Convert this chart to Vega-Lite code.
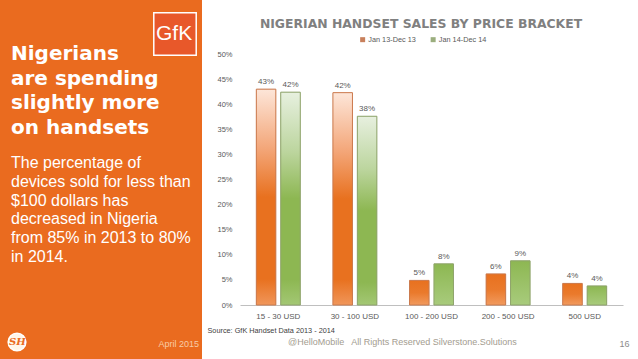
{
  "$schema": "https://vega.github.io/schema/vega-lite/v6.json",
  "background": "white",
  "padding": 0,
  "spacing": 5,
  "columns": 2,
  "align": "none",
  "bounds": "full",
  "config": {"view": {"stroke": null}, "font": "Liberation Sans"},
  "title": {
    "text": "@HelloMobile\u00a0\u00a0 All Rights Reserved Silverstone.Solutions",
    "orient": "bottom", "anchor": "start", "frame": "bounds",
    "dx": 288, "offset": -21, "baseline": "top",
    "font": "Liberation Sans", "fontSize": 9, "fontWeight": "normal", "color": "#A39C8F"
  },
  "concat": [
    {
      "width": 202,
      "height": 359,
      "view": {"fill": "#EA6B1F", "stroke": null},
      "title": {
        "text": ["Nigerians", "are spending", "slightly more", "on handsets"],
        "subtitle": ["The percentage of", "devices sold for less than", "$100 dollars has", "decreased in Nigeria", "from 85% in 2013 to 80%", "in 2014."],
        "anchor": "start", "frame": "group", "orient": "top", "baseline": "top",
        "dx": 11, "offset": -265,
        "font": "DejaVu Sans", "fontSize": 20, "fontWeight": "bold", "color": "white", "lineHeight": 24.7,
        "subtitleFont": "Liberation Sans", "subtitleFontSize": 16, "subtitleColor": "white", "subtitleLineHeight": 18.8, "subtitlePadding": 17
      },
      "data": {"values": [{"brand": "GfK", "badge": "SH"}]},
      "mark": {"type": "point", "filled": true, "size": 0, "opacity": 1},
      "encoding": {
        "fill": {
          "field": "brand", "type": "nominal",
          "scale": {"range": ["#E8582A"]},
          "legend": {
            "orient": "none", "legendX": 153, "legendY": 12, "padding": 0,
            "title": "April 2015", "titleOrient": "bottom", "titleAnchor": "end", "titlePadding": 282,
            "titleColor": "#F8CBA6", "titleFont": "Liberation Sans", "titleFontSize": 9, "titleFontWeight": "normal",
            "symbolType": "square", "symbolSize": 1800, "symbolStrokeColor": "white", "symbolStrokeWidth": 1.5,
            "labelColor": "white", "labelFontSize": 21, "labelFont": "Liberation Sans", "labelOffset": -41,
            "encode": {
              "symbols": {"update": {"stroke": {"value": "white"}, "strokeWidth": {"value": 1.5}, "opacity": {"value": 1}}},
              "title": {"update": {"dx": {"value": -5}}}
            }
          }
        },
        "shape": {
          "field": "badge", "type": "nominal",
          "scale": {"range": ["circle"]},
          "legend": {
            "orient": "none", "legendX": 7, "legendY": 332, "padding": 0, "title": null,
            "symbolSize": 314, "symbolFillColor": "#FFF6EA", "symbolStrokeColor": "white",
            "labelColor": "#EA6B1F", "labelFont": "DejaVu Serif", "labelFontStyle": "italic", "labelFontWeight": "bold",
            "labelFontSize": 10, "labelOffset": -18,
            "encode": {"symbols": {"update": {"fill": {"value": "#FFF6EA"}, "stroke": {"value": "white"}, "opacity": {"value": 1}}}}
          }
        }
      }
    },
    {
      "width": 383,
      "height": 305,
      "view": {"stroke": null},
      "title": {
        "text": "NIGERIAN HANDSET SALES BY PRICE BRACKET",
        "anchor": "middle", "frame": "group", "dx": -10.5, "offset": -30, "baseline": "top",
        "font": "DejaVu Sans", "fontSize": 12.4, "fontWeight": "bold", "color": "#808080"
      },
      "data": {
        "values": [
          {"bracket": "15 - 30 USD", "period": "Jan 13-Dec 13", "share": 0.43},
          {"bracket": "15 - 30 USD", "period": "Jan 14-Dec 14", "share": 0.424},
          {"bracket": "30 - 100 USD", "period": "Jan 13-Dec 13", "share": 0.423},
          {"bracket": "30 - 100 USD", "period": "Jan 14-Dec 14", "share": 0.376},
          {"bracket": "100 - 200 USD", "period": "Jan 13-Dec 13", "share": 0.049},
          {"bracket": "100 - 200 USD", "period": "Jan 14-Dec 14", "share": 0.082},
          {"bracket": "200 - 500 USD", "period": "Jan 13-Dec 13", "share": 0.062},
          {"bracket": "200 - 500 USD", "period": "Jan 14-Dec 14", "share": 0.088},
          {"bracket": "500 USD", "period": "Jan 13-Dec 13", "share": 0.043},
          {"bracket": "500 USD", "period": "Jan 14-Dec 14", "share": 0.038}
        ]
      },
      "encoding": {
        "x": {
          "field": "bracket", "type": "nominal",
          "sort": ["15 - 30 USD", "30 - 100 USD", "100 - 200 USD", "200 - 500 USD", "500 USD"],
          "scale": {"paddingInner": 0.426, "paddingOuter": 0.213},
          "axis": {
            "labelAngle": 0, "labelPadding": 7, "labelFontSize": 8, "labelColor": "#595959", "labelFont": "Liberation Sans",
            "ticks": false, "domainColor": "#BFBFBF", "domainWidth": 1,
            "title": "Source: GfK Handset Data 2013 - 2014",
            "titleX": -33, "titleY": 25, "titleAlign": "left", "titleAnchor": "start", "titleBaseline": "middle",
            "titleFontSize": 7.3, "titleFontWeight": "normal", "titleColor": "#404040", "titleFont": "Liberation Sans"
          }
        },
        "xOffset": {
          "field": "period", "type": "nominal",
          "scale": {"paddingInner": 0.2, "paddingOuter": 0}
        },
        "y": {
          "field": "share", "type": "quantitative",
          "scale": {"domain": [0, 0.6076], "nice": false},
          "axis": {
            "values": [0, 0.05, 0.1, 0.15, 0.2, 0.25, 0.3, 0.35, 0.4, 0.45, 0.5],
            "format": ".0%", "grid": false, "domain": false, "ticks": false,
            "labelPadding": 8, "labelFontSize": 7.5, "labelColor": "#595959", "labelFont": "Liberation Sans",
            "title": "16", "titleAngle": 0, "titleX": 384, "titleY": 343, "titleAlign": "center", "titleBaseline": "middle",
            "titleFontSize": 9, "titleFontWeight": "normal", "titleColor": "#8C8C8C", "titleFont": "Liberation Sans"
          }
        }
      },
      "layer": [
        {
          "mark": {"type": "bar"},
          "encoding": {
            "color": {
              "field": "period", "type": "nominal",
              "scale": {"range": ["#C8805C", "#9BAE7E"]},
              "legend": {
                "orient": "none", "legendX": 359, "legendY": 36, "direction": "horizontal", "padding": 0,
                "title": null, "symbolType": "square", "symbolSize": 25, "symbolStrokeWidth": 0,
                "labelFontSize": 7.3, "labelColor": "#595959", "labelFont": "Liberation Sans", "labelOffset": 2,
                "columnPadding": 13.5
              }
            }
          }
        },
        {
          "mark": {"type": "bar", "strokeWidth": 1},
          "encoding": {
            "fill": {
              "condition": [
                {"test": "datum.period === 'Jan 13-Dec 13' && datum.share > 0.2",
                 "value": {"gradient": "linear", "x1": 0, "y1": 0, "x2": 0, "y2": 1, "stops": [
                   {"offset": 0, "color": "#FDE6D9"}, {"offset": 0.28, "color": "#F3A577"},
                   {"offset": 0.5, "color": "#E8711F"}, {"offset": 0.88, "color": "#E8711F"},
                   {"offset": 1, "color": "#F0965A"}]}},
                {"test": "datum.period === 'Jan 13-Dec 13'",
                 "value": {"gradient": "linear", "x1": 0, "y1": 0, "x2": 0, "y2": 1, "stops": [
                   {"offset": 0, "color": "#E8711F"}, {"offset": 0.5, "color": "#EA7A2C"},
                   {"offset": 1, "color": "#F19A5E"}]}},
                {"test": "datum.share > 0.2",
                 "value": {"gradient": "linear", "x1": 0, "y1": 0, "x2": 0, "y2": 1, "stops": [
                   {"offset": 0, "color": "#E7F0DF"}, {"offset": 0.28, "color": "#BCD59E"},
                   {"offset": 0.5, "color": "#8DB752"}, {"offset": 0.88, "color": "#8DB752"},
                   {"offset": 1, "color": "#A3C774"}]}}
              ],
              "value": {"gradient": "linear", "x1": 0, "y1": 0, "x2": 0, "y2": 1, "stops": [
                {"offset": 0, "color": "#8DB752"}, {"offset": 1, "color": "#A8CB7C"}]}
            },
            "stroke": {
              "condition": {"test": "datum.period === 'Jan 13-Dec 13'", "value": "#CB7A4E"},
              "value": "#8FA46C"
            }
          }
        },
        {
          "mark": {"type": "text", "baseline": "bottom", "dy": -3, "fontSize": 8, "color": "#595959", "font": "Liberation Sans"},
          "encoding": {
            "text": {"field": "share", "type": "quantitative", "format": ".0%"}
          }
        }
      ]
    }
  ]
}
